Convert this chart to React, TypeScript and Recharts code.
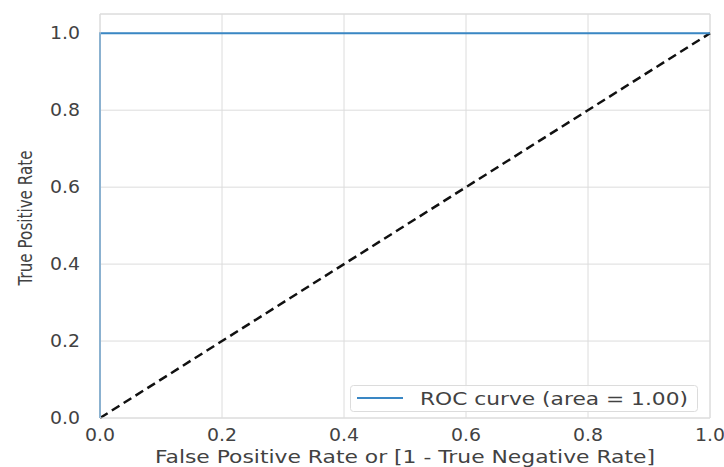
import {
  CartesianGrid,
  Line,
  LineChart,
  ReferenceLine,
  XAxis,
  YAxis,
} from "recharts";

const rocFpr = [0, 0, 1];
const rocTpr = [0, 1, 1];
const chanceFpr = [0, 1];
const chanceTpr = [0, 1];
const ticks = [0, 0.2, 0.4, 0.6, 0.8, 1.0];
const rocLabel = "ROC curve (area = 1.00)";
const xTitle = "False Positive Rate or [1 - True Negative Rate]";
const yTitle = "True Positive Rate";

const rocData = rocFpr.map((x, i) => ({ x, y: rocTpr[i] }));
const chanceData = chanceFpr.map((x, i) => ({ x, y: chanceTpr[i] }));

const FONT = "'DejaVu Sans', sans-serif";
const TEXT = "#424242";
const GRID = "#dcdcdc";
const BLUE = "#3a87c4";

const XTick = ({ x, y, payload }: any) => (
  <text
    x={x}
    y={y + 17}
    textAnchor="middle"
    dominantBaseline="central"
    fontFamily={FONT}
    fontSize={17}
    fill={TEXT}
    textLength={30}
    lengthAdjust="spacingAndGlyphs"
  >
    {payload.value.toFixed(1)}
  </text>
);

const YTick = ({ x, y, payload }: any) => (
  <text
    x={x - 20}
    y={y}
    textAnchor="end"
    dominantBaseline="central"
    fontFamily={FONT}
    fontSize={17}
    fill={TEXT}
    textLength={30}
    lengthAdjust="spacingAndGlyphs"
  >
    {payload.value.toFixed(1)}
  </text>
);

const XTitle = ({ viewBox }: any) => (
  <text
    x={viewBox.x + viewBox.width / 2}
    y={viewBox.y + 38}
    textAnchor="middle"
    dominantBaseline="central"
    fontFamily={FONT}
    fontSize={18}
    fill={TEXT}
    textLength={500}
    lengthAdjust="spacingAndGlyphs"
  >
    {xTitle}
  </text>
);

const YTitle = ({ viewBox }: any) => {
  const cx = 25;
  const cy = viewBox.y + viewBox.height / 2 + 2;
  return (
    <text
      x={cx}
      y={cy}
      transform={`rotate(-90 ${cx} ${cy})`}
      textAnchor="middle"
      dominantBaseline="central"
      fontFamily={FONT}
      fontSize={20}
      fill={TEXT}
      textLength={135}
      lengthAdjust="spacingAndGlyphs"
    >
      {yTitle}
    </text>
  );
};

const RocLegend = () => (
  <svg
    width={349}
    height={28}
    style={{ position: "absolute", left: 350, top: 385 }}
  >
    <rect x={0.5} y={0.5} width={347} height={26} rx={3} fill="rgba(255,255,255,0.85)" stroke={GRID} />
    <line x1={7} x2={53} y1={13} y2={13} stroke={BLUE} strokeWidth={2} />
    <text
      x={70}
      y={14}
      dominantBaseline="central"
      fontFamily={FONT}
      fontSize={17}
      fill={TEXT}
      textLength={268}
      lengthAdjust="spacingAndGlyphs"
    >
      {rocLabel}
    </text>
  </svg>
);

export default function App() {
  return (
    <div style={{ position: "absolute", left: 0, top: 0, width: 724, height: 467, background: "#fff" }}>
      <LineChart width={724} height={467} margin={{ top: 14, right: 14, left: 0, bottom: 0 }}>
        <CartesianGrid stroke={GRID} strokeWidth={1} />
        <XAxis
          type="number"
          dataKey="x"
          domain={[0, 1]}
          ticks={ticks}
          axisLine={{ stroke: GRID }}
          tickLine={false}
          tickSize={0}
          tickMargin={0}
          height={49}
          tick={<XTick />}
          label={<XTitle />}
        />
        <YAxis
          type="number"
          dataKey="y"
          domain={[0, 1.05]}
          ticks={ticks}
          axisLine={{ stroke: GRID }}
          tickLine={false}
          tickSize={0}
          tickMargin={0}
          width={100}
          tick={<YTick />}
          label={<YTitle />}
        />
        <ReferenceLine y={1.05} stroke={GRID} />
        <ReferenceLine x={1} stroke={GRID} />
        <Line
          data={chanceData}
          dataKey="y"
          type="linear"
          stroke="#111111"
          strokeWidth={2.5}
          strokeDasharray="9 5"
          dot={false}
          isAnimationActive={false}
        />
        <Line
          data={rocData}
          dataKey="y"
          type="linear"
          stroke={BLUE}
          strokeWidth={2}
          dot={false}
          isAnimationActive={false}
          name={rocLabel}
        />
      </LineChart>
      <RocLegend />
    </div>
  );
}
